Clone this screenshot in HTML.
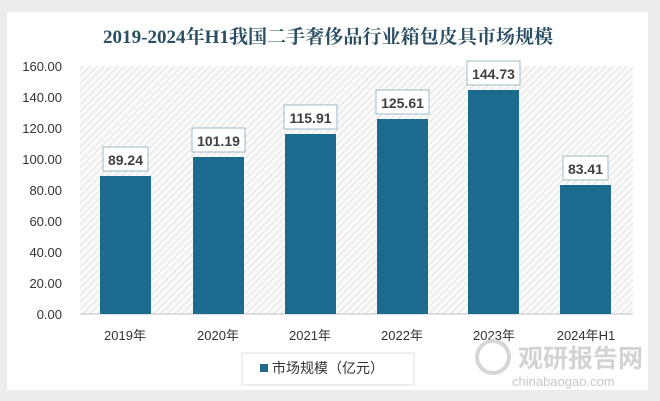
<!DOCTYPE html>
<html><head><meta charset="utf-8"><style>
body{margin:0;width:660px;height:401px;background:#ececec;overflow:hidden;font-family:"Liberation Sans","Noto Sans CJK SC",sans-serif;}
</style></head><body>
<svg width="660" height="401" xmlns="http://www.w3.org/2000/svg" style="position:absolute;left:0;top:0">
<defs>
<pattern id="h" width="5" height="5" patternUnits="userSpaceOnUse" patternTransform="rotate(45)">
<rect width="5" height="5" fill="#fafafa"/><line x1="0" y1="0" x2="0" y2="5" stroke="#dcdcdc" stroke-width="1.6"/>
</pattern>
</defs>
<rect x="7" y="12" width="641" height="378" fill="#fff"/>
<text x="328" y="43" text-anchor="middle" font-family="'Liberation Serif','Noto Serif CJK SC',serif" font-weight="bold" font-size="19" fill="#2a4f63" textLength="450" lengthAdjust="spacingAndGlyphs">2019-2024年H1我国二手奢侈品行业箱包皮具市场规模</text>
<rect x="80" y="66" width="553" height="248" fill="url(#h)"/>
<line x1="80" y1="314" x2="633" y2="314" stroke="#bfbfbf" stroke-width="1"/>
<g font-size="13" fill="#333" text-anchor="end">
<text x="62" y="319">0.00</text><text x="62" y="288">20.00</text><text x="62" y="257">40.00</text><text x="62" y="226">60.00</text><text x="62" y="195">80.00</text><text x="62" y="164">100.00</text><text x="62" y="133">120.00</text><text x="62" y="102">140.00</text><text x="62" y="71">160.00</text>
</g>
<g fill="#1c6a8e">
<rect x="100" y="176" width="51" height="138"/>
<rect x="193" y="157" width="51" height="157"/>
<rect x="285" y="134" width="51" height="180"/>
<rect x="377" y="119" width="51" height="195"/>
<rect x="468" y="90" width="51" height="224"/>
<rect x="560" y="185" width="51" height="129"/>
</g>
<g fill="#fff" stroke="#9fb8c4" stroke-width="1">
<rect x="103" y="147" width="45" height="24"/>
<rect x="192" y="128" width="53" height="24"/>
<rect x="284" y="105" width="53" height="24"/>
<rect x="376" y="90" width="53" height="24"/>
<rect x="467" y="61" width="53" height="24"/>
<rect x="563" y="156" width="45" height="24"/>
</g>
<g font-size="14" font-weight="bold" fill="#404040" text-anchor="middle">
<text x="125.5" y="165">89.24</text><text x="218.5" y="146">101.19</text><text x="310.5" y="123">115.91</text><text x="402.5" y="108">125.61</text><text x="493.5" y="79">144.73</text><text x="585.5" y="174">83.41</text>
</g>
<g font-size="13" fill="#333" text-anchor="middle">
<text x="125" y="340">2019年</text><text x="218" y="340">2020年</text><text x="310" y="340">2021年</text><text x="402" y="340">2022年</text><text x="494" y="340">2023年</text><text x="586" y="340">2024年H1</text>
</g>
<rect x="242" y="353" width="172" height="32" fill="#fff" stroke="#dcdcdc"/>
<rect x="260" y="364" width="8" height="8" fill="#1c6a8e"/>
<text x="272" y="373" font-size="14" fill="#333">市场规模（亿元）</text>
<circle cx="493" cy="357" r="16" fill="none" stroke="#d6d6d6" stroke-width="4"/>
<text x="518" y="367" font-size="25" font-weight="bold" fill="#d3d3d3">观研报告网</text>
<text x="512" y="386" font-size="13" fill="#c8c8c8">chinabaogao.com</text>
</svg>
</body></html>
